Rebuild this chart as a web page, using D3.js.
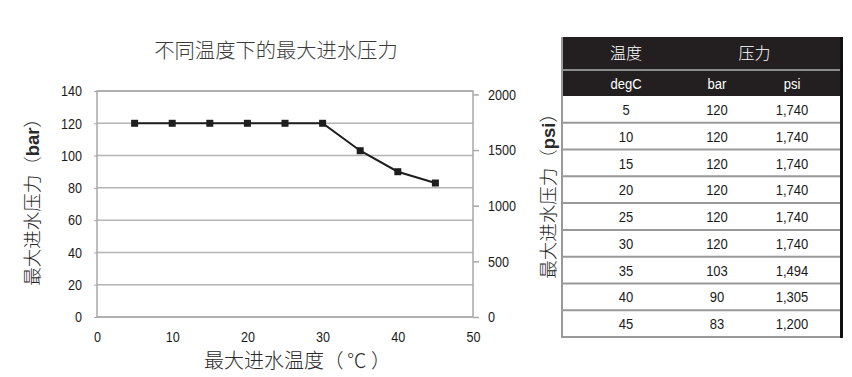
<!DOCTYPE html>
<html><head><meta charset="utf-8">
<script src="https://cdn.jsdelivr.net/npm/d3@7"></script>
<style>
html,body{margin:0;padding:0;background:#fff;}
svg{display:block;}
</style></head>
<body>
<svg id="c" width="852" height="377"></svg>
<script>
const temps = [5, 10, 15, 20, 25, 30, 35, 40, 45];
const bars = [120, 120, 120, 120, 120, 120, 103, 90, 83];
const psis = ["1,740", "1,740", "1,740", "1,740", "1,740", "1,740", "1,494", "1,305", "1,200"];
const xTicks = [0, 10, 20, 30, 40, 50];
const barTicks = [0, 20, 40, 60, 80, 100, 120, 140];
const psiTicks = [0, 500, 1000, 1500, 2000];
const title = "不同温度下的最大进水压力";
const xTitleCn = "最大进水温度";
const xTitleUnit = ["（", "℃", "）"];
const yTitleCn = "最大进水压力";
const headTop = ["温度", "压力"];
const headSub = ["degC", "bar", "psi"];

(function () {
const SANS = "'Liberation Sans',Arial,sans-serif";
const CJK = "'Noto Sans CJK SC','Noto Sans CJK JP',sans-serif";
const svg = d3.select("#c");
function narrow(sel, f) {
  sel.each(function () {
    const w = this.getComputedTextLength();
    this.setAttribute("textLength", (w * f).toFixed(2));
    this.setAttribute("lengthAdjust", "spacingAndGlyphs");
  });
}

const x = d3.scaleLinear().domain([0, 50]).range([97, 473]);
const y = d3.scaleLinear().domain([0, 140]).range([317, 91]);
const yPsi = d3.scaleLinear().domain([0, 140 * 14.5038]).range([317, 91]);

// gridlines
svg.append("g").selectAll("line").data(barTicks).join("line")
  .attr("x1", x(0)).attr("x2", x(50))
  .attr("y1", d => y(d)).attr("y2", d => y(d))
  .attr("stroke", "#b4b4b4").attr("stroke-width", 1.5);

// plot border
svg.append("rect").attr("x", x(0)).attr("y", y(140))
  .attr("width", x(50) - x(0)).attr("height", y(0) - y(140))
  .attr("fill", "none").attr("stroke", "#a8a8a8").attr("stroke-width", 1.5);

// left axis labels
const gl = svg.append("g").attr("transform", `translate(${x(0)},0)`)
  .call(d3.axisLeft(y).tickValues(barTicks).tickSize(3).tickPadding(12));
gl.select(".domain").remove();
gl.selectAll("line").attr("stroke", "#a8a8a8");
gl.selectAll("text").attr("font-family", SANS).attr("font-size", 15).attr("fill", "#1a1a1a").call(narrow, 0.84);

// bottom axis labels
const gb = svg.append("g").attr("transform", `translate(0,${y(0)})`)
  .call(d3.axisBottom(x).tickValues(xTicks).tickSize(0).tickPadding(14));
gb.select(".domain").remove();
gb.selectAll("text").attr("font-family", SANS).attr("font-size", 15).attr("fill", "#1a1a1a").call(narrow, 0.84);

// right axis
const gr = svg.append("g").attr("transform", `translate(${x(50)},0)`)
  .call(d3.axisRight(yPsi).tickValues(psiTicks).tickFormat(d3.format("d")).tickSize(6).tickPadding(9));
gr.select(".domain").remove();
gr.selectAll("line").attr("stroke", "#a8a8a8").attr("stroke-width", 1.5);
gr.selectAll("text").attr("font-family", SANS).attr("font-size", 15).attr("fill", "#1a1a1a").call(narrow, 0.84);

// line
const pts = temps.map((t, i) => [t, bars[i]]);
svg.append("path").datum(pts)
  .attr("d", d3.line().x(d => x(d[0])).y(d => y(d[1])))
  .attr("fill", "none").attr("stroke", "#1e1e1e").attr("stroke-width", 2);
svg.append("g").selectAll("rect").data(pts).join("rect")
  .attr("x", d => x(d[0]) - 3.5).attr("y", d => y(d[1]) - 3.5)
  .attr("width", 7).attr("height", 7).attr("fill", "#1e1e1e");

// chart title
svg.append("text").attr("x", 276).attr("y", 58).attr("text-anchor", "middle")
  .attr("font-family", CJK).attr("font-weight", 300).attr("font-size", 20.3).attr("fill", "#3a3a3a").text(title);

// x title
const xg = svg.append("g").attr("font-family", CJK).attr("font-weight", 300).attr("fill", "#2a2a2a");
xg.append("text").attr("x", 204).attr("y", 368).attr("font-size", 20).text(xTitleCn);
xg.selectAll(".u").data(xTitleUnit).join("text")
  .attr("x", (d, i) => [324, 347, 371][i]).attr("y", 368)
  .attr("font-size", 19.5).text(d => d);

// y titles
function yTitle(cx, cy, unit) {
  const fs = 18.5;
  const g = svg.append("g").attr("transform", `translate(${cx},${cy}) rotate(-90)`)
    .attr("font-family", CJK).attr("font-weight", 300).attr("fill", "#2a2a2a").attr("font-size", fs);
  const uText = g.append("text").attr("font-family", SANS).attr("font-weight", "bold").attr("font-size", 18.5).text(unit);
  const uw = uText.node().getComputedTextLength();
  const ink = 7 * fs + uw + 0.4 * fs;
  const s = -ink / 2;
  g.append("text").attr("x", s).attr("dy", "0.36em").text(yTitleCn);
  g.append("text").attr("x", s + 6 * fs).attr("dy", "0.36em").text("（");
  uText.attr("x", s + 7 * fs).attr("dy", "0.36em");
  g.append("text").attr("x", s + 7 * fs + uw).attr("dy", "0.36em").text("）");
}
yTitle(32, 203, "bar");
yTitle(548, 197, "psi");

// table
const tx0 = 562, tx1 = 840;
const colC = [626, 717, 792];
const tTop = 37, h1 = 32, sep = 2, h2 = 25;
const dataTop = tTop + h1 + sep + h2;
const rowY = d3.scaleBand().domain(temps.map(String)).range([dataTop, 337]);
const tg = svg.append("g");
tg.append("rect").attr("x", tx1).attr("y", tTop).attr("width", 3).attr("height", 337 - tTop + 1).attr("fill", "#111");
tg.append("rect").attr("x", tx0).attr("y", tTop).attr("width", tx1 - tx0).attr("height", h1).attr("fill", "#231f20");
tg.append("rect").attr("x", tx0).attr("y", tTop + h1).attr("width", tx1 - tx0).attr("height", sep).attr("fill", "#8c8c8c");
tg.append("rect").attr("x", tx0).attr("y", tTop + h1 + sep).attr("width", tx1 - tx0).attr("height", h2).attr("fill", "#231f20");
tg.selectAll(".ht").data(headTop).join("text")
  .attr("x", (d, i) => i === 0 ? colC[0] : (colC[1] + colC[2]) / 2)
  .attr("y", tTop + h1 / 2).attr("dy", "0.36em").attr("text-anchor", "middle")
  .attr("font-family", CJK).attr("font-weight", 300).attr("font-size", 16).attr("fill", "#fff").text(d => d);
tg.selectAll(".hs").data(headSub).join("text")
  .attr("x", (d, i) => colC[i]).attr("y", tTop + h1 + sep + h2 / 2).attr("dy", "0.36em")
  .attr("text-anchor", "middle").attr("font-family", SANS).attr("font-size", 15.5)
  .attr("fill", "#fff").text(d => d).call(narrow, 0.84);
const rows = tg.selectAll(".row").data(temps.map((t, i) => [String(t), String(bars[i]), psis[i]])).join("g");
rows.each(function (r) {
  const g = d3.select(this);
  const y0 = rowY(r[0]);
  g.append("line").attr("x1", tx0).attr("x2", tx1).attr("y1", y0 + rowY.bandwidth()).attr("y2", y0 + rowY.bandwidth())
    .attr("stroke", "#999").attr("stroke-width", 2);
  g.selectAll("text").data(r).join("text")
    .attr("x", (d, i) => colC[i]).attr("y", y0 + rowY.bandwidth() / 2).attr("dy", "0.36em")
    .attr("text-anchor", "middle").attr("font-family", SANS).attr("font-size", 15.5)
    .attr("fill", "#1a1a1a").text(d => d).call(narrow, 0.84);
});
tg.append("line").attr("x1", tx0).attr("x2", tx0).attr("y1", tTop).attr("y2", 338)
  .attr("stroke", "#999").attr("stroke-width", 2);
})();
</script>
</body></html>
